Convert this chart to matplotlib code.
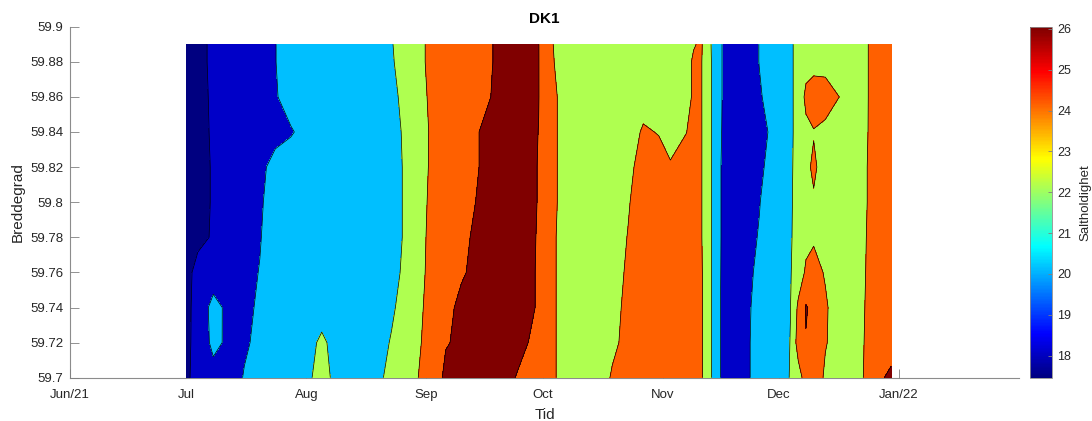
import numpy as np
import pandas as pd
import matplotlib
matplotlib.use('Agg')
import matplotlib.pyplot as plt
import matplotlib.dates as mdates
from matplotlib.colors import LinearSegmentedColormap, Normalize
from matplotlib.cm import ScalarMappable

plt.rcParams['font.family'] = ['Liberation Sans', 'DejaVu Sans']

# sampling dates (columns)
dates = ['2021-07-01', '2021-07-04', '2021-07-08', '2021-07-12', '2021-07-16', '2021-07-20', '2021-07-24', '2021-07-28',
         '2021-08-01', '2021-08-05', '2021-08-09', '2021-08-15', '2021-08-20', '2021-08-23', '2021-08-26', '2021-08-29',
         '2021-09-02', '2021-09-06', '2021-09-10', '2021-09-14', '2021-09-18', '2021-09-22', '2021-09-26', '2021-09-30',
         '2021-10-03', '2021-10-06', '2021-10-10', '2021-10-15', '2021-10-19', '2021-10-23', '2021-10-27', '2021-10-31',
         '2021-11-03', '2021-11-07', '2021-11-09', '2021-11-11', '2021-11-13', '2021-11-15', '2021-11-18', '2021-11-23',
         '2021-11-26', '2021-11-29', '2021-12-02', '2021-12-04', '2021-12-06', '2021-12-08', '2021-12-10', '2021-12-13',
         '2021-12-17', '2021-12-21', '2021-12-25', '2021-12-28', '2021-12-30']

# breddegrad (rows)
latitudes = [59.70, 59.72, 59.74, 59.76, 59.78, 59.80, 59.82, 59.84, 59.86, 59.88, 59.89]

# saltholdighet, en rad per breddegrad
salinity = [
    # 59.70
    [17.45, 19.1, 19.4, 19.6, 20.05, 20.8, 21.0, 21.2,
     21.64, 22.6, 21.51, 21.6, 21.9, 22.23, 23.0, 23.8,
     24.69, 26.38, 26.6, 26.7, 26.6, 26.3, 25.67, 24.9,
     24.4, 23.6, 23.3, 23.4, 24.11, 24.6, 24.8, 24.9,
     25.0, 25.0, 24.9, 24.2, 22.6, 20.6, 18.6, 19.8,
     20.8, 21.0, 21.5, 22.1, 23.2, 24.8, 25.0, 23.75,
     23.0, 23.5, 24.61, 25.95, 26.4],
    # 59.72
    [17.45, 18.83, 20.4, 19.7, 19.9, 20.17, 20.7, 21.0,
     21.4, 22.3, 21.4, 21.5, 21.8, 22.05, 22.8, 23.6,
     24.54, 25.9, 26.26, 26.5, 26.6, 26.5, 26.2, 25.58,
     24.6, 23.4, 23.2, 23.4, 23.8, 24.27, 24.7, 24.9,
     25.0, 25.0, 24.9, 24.2, 22.6, 20.6, 18.6, 19.8,
     20.8, 20.9, 21.4, 22.05, 24.84, 25.9, 25.3, 24.1,
     23.3, 23.5, 24.5, 25.0, 25.2],
    # 59.74
    [17.45, 18.75, 20.6, 19.56, 19.7, 20.18, 20.6, 20.8,
     21.0, 21.3, 21.2, 21.4, 21.6, 21.9, 22.2, 23.3,
     24.57, 25.5, 26.41, 26.6, 26.7, 26.6, 26.4, 25.88,
     24.5, 23.5, 23.2, 23.3, 23.7, 24.22, 24.6, 24.8,
     24.9, 24.9, 24.9, 24.2, 22.6, 20.6, 18.7, 19.8,
     20.55, 20.7, 21.3, 21.98, 24.36, 26.15, 25.5, 24.2,
     23.06, 23.5, 24.41, 24.9, 25.0],
    # 59.76
    [17.45, 18.55, 19.0, 19.4, 19.5, 20.06, 20.5, 20.7,
     20.9, 21.0, 21.0, 21.3, 21.5, 21.8, 22.07, 23.2,
     24.39, 25.2, 25.8, 26.42, 26.7, 26.7, 26.4, 25.88,
     24.5, 23.5, 23.2, 23.2, 23.6, 24.13, 24.5, 24.7,
     24.8, 24.9, 24.9, 24.2, 22.6, 20.6, 18.8, 19.7,
     20.34, 20.7, 21.2, 21.9, 22.9, 24.28, 24.5, 23.875,
     23.2, 23.5, 24.33, 24.8, 24.9],
    # 59.78
    [17.45, 17.6, 18.15, 18.8, 19.4, 19.9, 20.9, 20.8,
     20.8, 20.9, 20.9, 21.2, 21.5, 21.75, 22.02, 23.1,
     24.34, 25.0, 25.6, 26.3, 26.7, 26.7, 26.5, 25.89,
     24.5, 23.5, 23.1, 23.1, 23.5, 24.03, 24.4, 24.6,
     24.7, 24.8, 24.8, 24.1, 22.6, 20.6, 18.9, 19.6,
     20.1, 20.6, 21.1, 21.8, 22.8, 23.5, 23.83, 23.5,
     23.3, 23.6, 24.22, 24.6, 24.7],
    # 59.80
    [17.45, 17.6, 18.1, 18.7, 19.3, 19.9, 20.34, 20.6,
     20.7, 20.8, 20.9, 21.2, 21.5, 21.75, 22.02, 23.1,
     24.23, 24.9, 25.4, 26.05, 26.6, 26.7, 26.5, 25.94,
     24.6, 23.6, 23.1, 23.0, 23.4, 23.9, 24.57, 24.6,
     24.6, 24.8, 24.8, 24.1, 22.6, 20.6, 18.9, 19.4,
     19.95, 20.7, 21.1, 21.8, 22.6, 23.3, 23.8, 23.4,
     23.2, 23.6, 24.17, 24.6, 24.7],
    # 59.82
    [17.45, 17.6, 18.1, 18.6, 19.1, 19.6, 20.54, 20.6,
     20.6, 20.7, 20.8, 21.2, 21.5, 21.75, 22.02, 23.0,
     24.14, 24.8, 25.3, 25.9, 26.57, 26.7, 26.5, 25.94,
     24.6, 23.6, 23.1, 23.0, 23.3, 23.7, 24.45, 24.5,
     24.2, 24.7, 24.7, 24.1, 22.6, 20.6, 18.9, 19.3,
     19.8, 20.3, 21.0, 21.7, 22.7, 23.6, 24.3, 23.2,
     23.2, 23.6, 24.17, 24.6, 24.7],
    # 59.84
    [17.45, 17.6, 18.15, 18.6, 19.0, 19.3, 19.5, 19.9,
     20.34, 20.7, 20.9, 21.2, 21.5, 21.75, 22.05, 23.0,
     24.11, 24.8, 25.3, 25.9, 26.57, 26.7, 26.5, 25.98,
     24.6, 23.6, 23.0, 22.9, 23.1, 23.4, 24.15, 23.94,
     23.2, 23.95, 24.4, 24.1, 22.6, 20.7, 19.0, 19.3,
     19.6, 20.15, 20.9, 21.6, 22.74, 23.5, 23.9, 23.5,
     23.3, 23.6, 24.13, 24.6, 24.7],
    # 59.86
    [17.45, 17.65, 18.17, 18.7, 19.1, 19.5, 19.9, 20.47,
     20.8, 20.9, 21.0, 21.3, 21.6, 21.85, 22.11, 23.1,
     24.23, 24.8, 25.2, 25.5, 26.05, 26.5, 26.5, 26.03,
     24.9, 23.4, 23.0, 22.9, 23.0, 23.2, 23.5, 23.5,
     23.3, 23.5, 24.2, 24.1, 22.5, 20.8, 19.0, 19.4,
     19.9, 20.33, 21.0, 21.7, 22.56, 24.48, 25.0, 24.9,
     23.9, 23.6, 24.12, 24.6, 24.7],
    # 59.88
    [17.45, 17.7, 18.2, 18.8, 19.2, 19.6, 19.95, 20.95,
     21.0, 21.0, 21.1, 21.4, 21.7, 21.9, 22.33, 23.2,
     24.39, 24.9, 25.2, 25.5, 25.98, 26.38, 26.5, 26.03,
     24.8, 22.4, 22.8, 23.0, 23.0, 23.2, 23.4, 23.4,
     23.3, 23.5, 24.2, 24.1, 22.5, 20.8, 19.0, 19.5,
     20.03, 20.5, 21.0, 21.7, 22.56, 23.2, 23.33, 23.3,
     23.2, 23.6, 24.12, 24.6, 24.7],
    # 59.89
    [17.45, 17.7, 18.2, 18.8, 19.2, 19.6, 19.95, 20.95,
     21.0, 21.0, 21.1, 21.4, 21.7, 21.95, 22.33, 23.2,
     24.39, 24.9, 25.2, 25.5, 25.98, 26.38, 26.5, 26.03,
     24.6, 22.2, 22.7, 23.0, 23.0, 23.1, 23.3, 23.3,
     23.2, 23.2, 23.9, 24.2, 22.4, 20.8, 19.0, 19.5,
     20.03, 20.5, 21.0, 21.7, 22.56, 23.2, 23.3, 23.3,
     23.2, 23.6, 24.12, 24.6, 24.7],
]

levels = [18, 20, 22, 24, 26]
band_colors = ['#000080', '#0000c8', '#00bfff', '#afff50', '#ff6000', '#800000']
clim = (17.45, 26.04)

tick_dates = ['2021-06-01', '2021-07-01', '2021-08-01', '2021-09-01',
              '2021-10-01', '2021-11-01', '2021-12-01', '2022-01-01']
tick_labels = ['Jun/21', 'Jul', 'Aug', 'Sep', 'Oct', 'Nov', 'Dec', 'Jan/22']
lat_ticks = [59.7, 59.72, 59.74, 59.76, 59.78, 59.8, 59.82, 59.84, 59.86, 59.88, 59.9]

# matlab-style jet
jet_ml = LinearSegmentedColormap('jet_ml', {
    'red':   [(0, 0, 0), (0.375, 0, 0), (0.625, 1, 1), (0.875, 1, 1), (1, 0.5, 0.5)],
    'green': [(0, 0, 0), (0.125, 0, 0), (0.375, 1, 1), (0.625, 1, 1), (0.875, 0, 0), (1, 0, 0)],
    'blue':  [(0, 0.5, 0.5), (0.125, 1, 1), (0.375, 1, 1), (0.625, 0, 0), (1, 0, 0)],
}, N=256)

x = mdates.date2num(pd.to_datetime(dates))
S = np.array(salinity)
W, H = 1092, 421
txt = '#262626'

fig = plt.figure(figsize=(W / 100, H / 100), dpi=100)
ax = fig.add_axes([70 / W, 1 - 377.7 / H, (1019 - 70) / W, (377.7 - 26.7) / H])

fill_levels = [S.min() - 1] + levels + [S.max() + 1]
ax.contourf(x, latitudes, S, levels=fill_levels, colors=band_colors, zorder=1)
ax.contour(x, latitudes, S, levels=levels, colors='k', linewidths=0.5, zorder=2)

ax.set_xlim(mdates.date2num(pd.Timestamp('2021-06-01')), mdates.date2num(pd.Timestamp('2022-02-01')))
ax.set_ylim(59.7, 59.9)
ax.set_xticks(mdates.date2num(pd.to_datetime(tick_dates)))
ax.set_xticklabels(tick_labels)
ax.set_yticks(lat_ticks)
ax.set_yticklabels([f'{v:g}' for v in lat_ticks])
ax.tick_params(direction='in', length=6.5, width=0.6, color='#808080',
               labelsize=9.5, labelcolor=txt, pad=5)
ax.tick_params(axis='x', pad=8)
ax.set_axisbelow(True)
for side in ['top', 'right']:
    ax.spines[side].set_visible(False)
for side in ['left', 'bottom']:
    ax.spines[side].set_color('#8c8c8c')
    ax.spines[side].set_linewidth(0.8)
    ax.spines[side].set_zorder(0.5)

ax.set_title('DK1', fontsize=11, fontweight='bold', pad=3)
ax.set_xlabel('Tid', fontsize=11, color=txt, labelpad=5)
ax.set_ylabel('Breddegrad', fontsize=11, color=txt, labelpad=4)

# fargeskala
cax = fig.add_axes([1030 / W, 1 - 378 / H, 21.7 / W, (378 - 27.3) / H])
cb = fig.colorbar(ScalarMappable(norm=Normalize(*clim), cmap=jet_ml), cax=cax,
                  ticks=list(range(18, 27)))
cb.ax.tick_params(direction='in', length=3, width=0.6, color='#808080',
                  labelsize=9, labelcolor=txt, pad=4)
cb.outline.set_edgecolor('#8c8c8c')
cb.outline.set_linewidth(0.6)
cb.set_label('Saltholdighet', fontsize=9.5, color=txt, labelpad=6)

fig.savefig('out.png', dpi=100)
